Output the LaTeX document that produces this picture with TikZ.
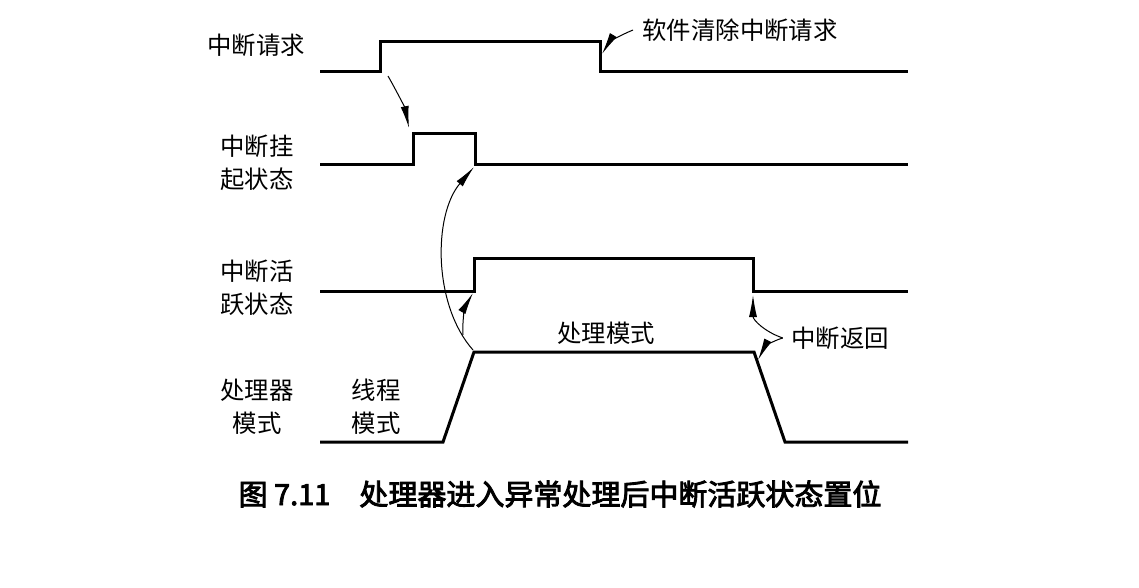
\documentclass[tikz,border=0pt]{standalone}
\usepackage{fontspec}
\setmainfont{Noto Sans CJK SC}
\newfontfamily\capfont[FakeBold=3]{Noto Sans CJK SC}
\usepackage{tikz}
\usetikzlibrary{arrows.meta}

\begin{document}
\begin{tikzpicture}[x=0.5pt,y=-0.5pt,font=\fontsize{12.2}{16.5}\selectfont,>={Latex[length=11pt,width=4pt]}]
\tikzset{wave/.style={line width=1.5pt,line join=miter}, pointer/.style={->,line width=0.5pt}, lbl/.style={align=center,inner sep=0pt}}
\useasboundingbox (0,0) rectangle (1139,588);
% waveforms
\draw[wave] (320,72) -- (380,72) -- (380,42) -- (600,42) -- (600,72) -- (908,72);
\draw[wave] (320,165) -- (413,165) -- (413,134) -- (475,134) -- (475,165) -- (908,165);
\draw[wave] (320,291) -- (474,291) -- (474,258) -- (753,258) -- (753,291) -- (908,291);
\draw[wave] (320,442) -- (443,442) -- (474,352) -- (754,352) -- (785,442) -- (908,442);
% corners that the pointers meet
\coordinate (reqrise) at (388,76);
\coordinate (pendrise) at (409,128);
\coordinate (reqfall) at (602,54);
\coordinate (pendfall) at (474,167);
\coordinate (actrise) at (473,293);
\coordinate (modeup) at (473,350);
\coordinate (modefoot) at (463,335);
\coordinate (actfall) at (753,295);
\coordinate (modedown) at (758,360);
% labels
\node[lbl] (req) at (256,45) {中断请求};
\node[lbl] (pend) at (257,163) {中断挂\\起状态};
\node[lbl] (act) at (257,288) {中断活\\跃状态};
\node[lbl] (mode) at (257,407) {处理器\\模式};
\node[lbl] (thread) at (376,407) {线程\\模式};
\node[lbl] (handler) at (606,333) {处理模式};
\node[lbl,inner xsep=4.5pt] (clear) at (740,30) {软件清除中断请求};
\node[lbl,inner xsep=4pt] (ret) at (840,338) {中断返回};
\node[lbl,font=\fontsize{14.5}{17}\selectfont\capfont] (caption) at (560,494) {图 7.11\quad 处理器进入异常处理后中断活跃状态置位};
% pointers
\draw[pointer] (reqrise) .. controls (396,90) and (405,108) .. (pendrise);
\draw[pointer] (clear.west) .. controls (616,37) and (608,44) .. (reqfall);
\draw[pointer] (modeup) .. controls (433,305) and (433,215) .. (pendfall);
\draw[pointer] (modefoot) .. controls (462,318) and (466,305) .. (actrise);
\draw[pointer] (ret.west) .. controls (765,332) and (753,320) .. (actfall);
\draw[pointer] (ret.west) .. controls (772,341) and (764,348) .. (modedown);
\end{tikzpicture}
\end{document}
